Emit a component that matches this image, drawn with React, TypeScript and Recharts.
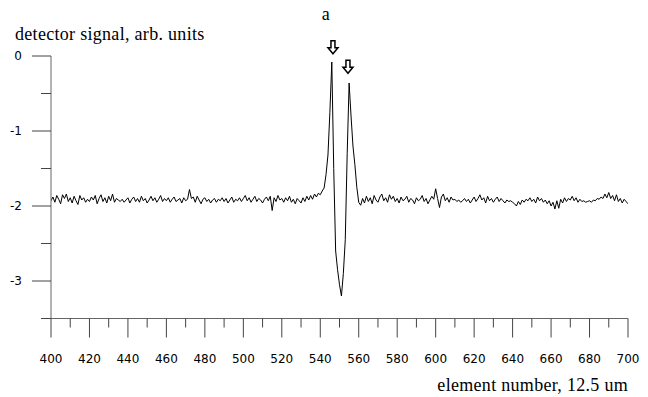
import { LineChart, Line, XAxis, YAxis, ReferenceDot } from "recharts";

// detector signal per element, starting at element 400 (step 1)
const startElement = 400;
const signal = [
  -1.93, -1.88, -1.95, -1.86, -1.91, -1.97, -1.85, -1.90, -1.84, -1.94,
  -1.89, -1.96, -1.87, -1.93, -1.98, -1.86, -1.92, -1.89, -1.95, -1.91,
  -1.94, -1.88, -1.92, -1.86, -1.97, -1.90, -1.85, -1.94, -1.89, -1.96,
  -1.87, -1.93, -1.84, -1.95, -1.90, -1.92, -1.94, -1.91, -1.95, -1.92,
  -1.89, -1.96, -1.91, -1.88, -1.94, -1.90, -1.95, -1.87, -1.93, -1.90,
  -1.96, -1.92, -1.87, -1.93, -1.89, -1.95, -1.91, -1.86, -1.94, -1.90,
  -1.93, -1.89, -1.95, -1.91, -1.88, -1.94, -1.92, -1.90, -1.96, -1.89,
  -1.93, -1.91, -1.78, -1.90, -1.88, -1.95, -1.87, -1.92, -1.97, -1.91,
  -1.89, -1.94, -1.91, -1.96, -1.92, -1.90, -1.95, -1.91, -1.93, -1.89,
  -1.94, -1.90, -1.96, -1.92, -1.88, -1.95, -1.91, -1.93, -1.89, -1.94,
  -1.90, -1.86, -1.93, -1.89, -1.95, -1.91, -1.87, -1.94, -1.90, -1.92,
  -1.96, -1.91, -1.88, -1.93, -1.87, -2.06, -1.89, -1.94, -1.86, -1.92,
  -1.90, -1.95, -1.89, -1.93, -1.87, -1.95, -1.91, -1.97, -1.90, -1.93,
  -1.96, -1.89, -1.94, -1.87, -1.92, -1.86, -1.91, -1.84, -1.88, -1.83,
  -1.85, -1.80, -1.76, -1.58, -1.32, -0.75, -0.08, -1.50, -2.60, -2.85,
  -3.05, -3.20, -2.90, -2.45, -1.30, -0.36, -0.80, -1.20, -1.45, -1.75,
  -1.95, -1.99, -1.90, -1.96, -1.87, -1.94, -1.89, -1.97, -1.86, -1.92,
  -1.95, -1.88, -1.84, -1.93, -1.89, -1.95, -1.85, -1.91, -1.87, -1.94,
  -1.90, -1.96, -1.88, -1.93, -1.91, -1.87, -1.95, -1.90, -1.92, -1.97,
  -1.89, -1.93, -1.91, -1.86, -1.94, -1.90, -1.97, -1.92, -1.87, -1.91,
  -1.77, -1.90, -2.02, -1.88, -1.84, -1.93, -1.89, -1.95, -1.88, -1.92,
  -1.91, -1.94, -1.92, -1.95, -1.93, -1.90, -1.94, -1.91, -1.96, -1.92,
  -1.88, -1.94, -1.90, -1.85, -1.92, -1.89, -1.96, -1.87, -1.93, -1.90,
  -1.95, -1.91, -1.88, -1.94, -1.90, -1.93, -1.96, -1.92, -1.94, -1.93,
  -1.95, -1.97, -2.00, -1.94, -1.98, -1.92, -1.95, -1.91, -1.93, -1.89,
  -1.94, -1.91, -1.96, -1.88, -1.93, -1.90, -1.95, -1.92, -1.97, -1.93,
  -2.00, -1.95, -2.04, -1.93, -2.03, -1.91, -1.96, -1.89, -1.94, -1.90,
  -1.92, -1.87, -1.93, -1.89, -1.95, -1.91, -1.94, -1.93, -1.95, -1.94,
  -1.93, -1.95, -1.92, -1.93, -1.90, -1.91, -1.88, -1.90, -1.84, -1.89,
  -1.82, -1.90, -1.86, -1.93, -1.85, -1.94, -1.90, -1.96, -1.91, -1.94,
  -1.97,
];

const xTicks = [400, 410, 420, 430, 440, 450, 460, 470, 480, 490, 500, 510, 520, 530, 540, 550, 560, 570, 580, 590, 600, 610, 620, 630, 640, 650, 660, 670, 680, 690, 700];
const yTicks = [-3.5, -3, -2.5, -2, -1.5, -1, -0.5, 0];

// arrow markers above the two peaks (tip position)
const arrowX = [546.6, 554.4];
const arrowY = [0.03, -0.23];

const data = signal.map((v, i) => ({ el: startElement + i, v }));

const tickFont = { fontFamily: "DejaVu Sans", fontSize: 12, fill: "#000" };

const XTick = (props: any) => {
  const { x, y, payload } = props;
  const major = payload.value % 20 === 0;
  return (
    <g>
      <line x1={x} y1={y} x2={x} y2={y + (major ? 19 : 9)} stroke="#444" />
      {major && (
        <text x={x} y={y + 44} textAnchor="middle" {...tickFont}>{payload.value}</text>
      )}
    </g>
  );
};

const YTick = (props: any) => {
  const { x, y, payload } = props;
  const major = Number.isInteger(payload.value);
  return (
    <g>
      <line x1={x - (major ? 19 : 10)} y1={y} x2={x} y2={y} stroke="#444" />
      {major && (
        <text x={x - 29} y={y + 4} textAnchor="end" {...tickFont}>{payload.value}</text>
      )}
    </g>
  );
};

const Arrow = (props: any) => {
  const { cx, cy } = props;
  const pts = [
    [cx, cy], [cx - 5, cy - 6], [cx - 2, cy - 6], [cx - 2, cy - 13],
    [cx + 2, cy - 13], [cx + 2, cy - 6], [cx + 5, cy - 6],
  ].map((p) => p.join(",")).join(" ");
  return <polygon points={pts} fill="#fff" stroke="#000" strokeWidth={1.5} />;
};

const serifText = { fontFamily: "Liberation Serif", fill: "#000", fontSize: 18, letterSpacing: 0.3 };

export default function App() {
  return (
    <div style={{ position: "absolute", left: 0, top: 0, width: 648, height: 397, background: "#fff" }}>
      <LineChart width={648} height={397} data={data} margin={{ top: 56, right: 20, bottom: 77.5, left: 50 }}>
        <XAxis dataKey="el" type="number" domain={[400, 700]} ticks={xTicks} interval={0}
          height={1} tickSize={0} tickMargin={0} tickLine={false} tick={<XTick />}
          axisLine={{ stroke: "#666" }} allowDataOverflow />
        <YAxis type="number" domain={[-3.5, 0]} ticks={yTicks} interval={0}
          width={1} tickSize={0} tickMargin={0} tickLine={false} tick={<YTick />}
          axisLine={{ stroke: "#666" }} allowDataOverflow />
        <Line type="linear" dataKey="v" stroke="#000" strokeWidth={1} dot={false} isAnimationActive={false} />
        {arrowX.map((ax, i) => (
          <ReferenceDot key={i} x={ax} y={arrowY[i]} ifOverflow="visible" shape={<Arrow />} />
        ))}
      </LineChart>
      <svg width={648} height={397} style={{ position: "absolute", left: 0, top: 0, pointerEvents: "none" }}>
        <text x={326} y={20} textAnchor="middle" {...serifText}>a</text>
        <text x={15} y={40} {...serifText}>detector signal, arb. units</text>
        <text x={628} y={391} textAnchor="end" {...serifText}>element number, 12.5 um</text>
      </svg>
    </div>
  );
}
